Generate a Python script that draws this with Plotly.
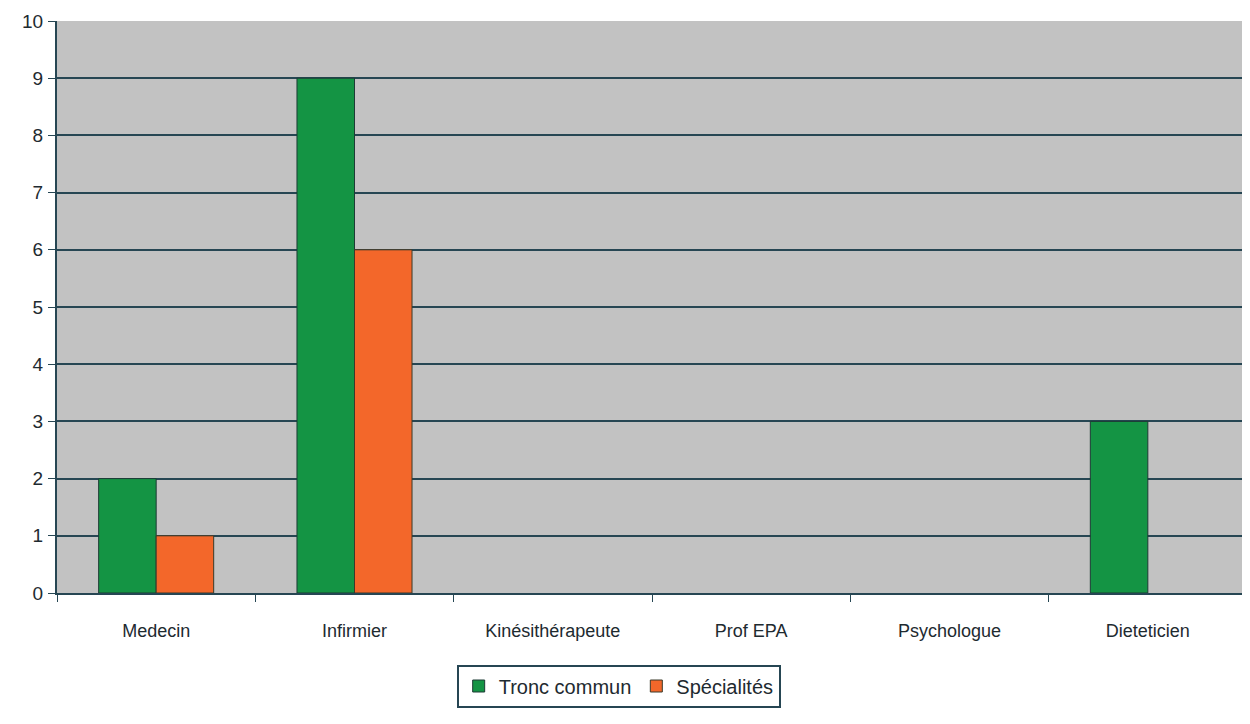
import plotly.graph_objects as go

categories = ["Medecin", "Infirmier", "Kinésithérapeute", "Prof EPA", "Psychologue", "Dieteticien"]
tronc_commun = [2, 9, 0, 0, 0, 3]
specialites = [1, 6, 0, 0, 0, 0]
y_ticks = list(range(0, 11))

dark = "#264653"
fig = go.Figure()
fig.add_trace(go.Bar(x=categories, y=tronc_commun, name="Tronc commun",
                     marker=dict(color="#149444",
                                 line=dict(color="#1d3b35", width=[1 if v else 0 for v in tronc_commun]))))
fig.add_trace(go.Bar(x=categories, y=specialites, name="Spécialités",
                     marker=dict(color="#f3672a",
                                 line=dict(color="#3a3a2a", width=[1 if v else 0 for v in specialites]))))

fig.update_layout(
    barmode="group", bargap=0.42, bargroupgap=0,
    width=1242, height=716,
    margin=dict(l=49, r=3, t=11, b=131),
    paper_bgcolor="white", plot_bgcolor="#c2c2c2",
    font=dict(family="Liberation Sans, Arial", size=17, color="#1e2a30"),
    legend=dict(orientation="h", x=0.472, xanchor="center", y=-0.125, yanchor="top",
                bordercolor=dark, borderwidth=2, bgcolor="white",
                font=dict(size=20), traceorder="normal", itemwidth=30),
    showlegend=True,
)
fig.update_xaxes(showline=True, linecolor=dark, linewidth=2, ticks="outside",
                 tickson="boundaries", ticklen=7, tickcolor=dark, showgrid=False,
                 mirror=False, tickfont=dict(size=18), ticklabelstandoff=20)
fig.update_yaxes(range=[0, 10], tickvals=y_ticks, showline=True, linecolor=dark, linewidth=2,
                 ticks="outside", ticklen=7, tickcolor=dark, gridcolor=dark, gridwidth=2,
                 zeroline=False, tickfont=dict(size=19), ticklabelstandoff=1)

fig.write_html("out.html")
